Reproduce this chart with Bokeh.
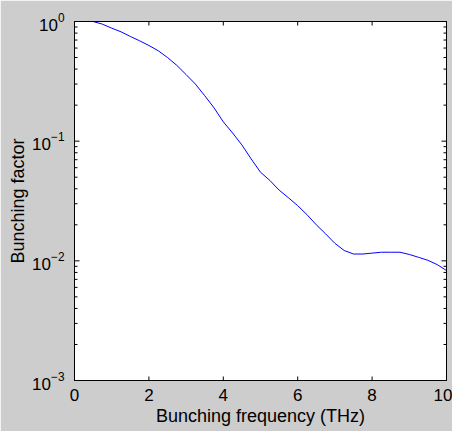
import math
from bokeh.plotting import figure
from bokeh.models import LinearAxis, LogAxis, FixedTicker, LogTicker
from bokeh.embed import file_html
from bokeh.resources import INLINE

# Data
freq_thz = [0.5, 0.75, 1.0, 1.25, 1.5, 1.75, 2.0, 2.25, 2.5, 2.75, 3.0, 3.25,
            3.5, 3.75, 4.0, 4.25, 4.5, 4.75, 5.0, 5.25, 5.5, 5.75, 6.0, 6.25,
            6.5, 6.75, 7.0, 7.25, 7.5, 7.75, 8.0, 8.25, 8.5, 8.75, 9.0, 9.25,
            9.5, 9.75, 10.0]
bunching = [1.0, 0.95, 0.88, 0.82, 0.75, 0.69, 0.63, 0.57, 0.50, 0.43, 0.36,
            0.30, 0.24, 0.19, 0.145, 0.117, 0.093, 0.071, 0.055, 0.047, 0.039,
            0.0337, 0.0289, 0.0243, 0.0200, 0.0168, 0.0140, 0.0122, 0.0114,
            0.0114, 0.0116, 0.0118, 0.0118, 0.0118, 0.0113, 0.0107, 0.0101,
            0.0093, 0.0083]
x_ticks = [0, 2, 4, 6, 8, 10]
y_major_ticks = [1e-3, 1e-2, 1e-1, 1e0]
y_minor_ticks = [m * d for d in [1e-3, 1e-2, 1e-1] for m in range(2, 10)]

X_MIN, X_MAX = 0, 10
Y_MIN, Y_MAX = 1e-3, 1

W, H = 452, 431
B_LEFT, B_RIGHT, B_TOP, B_BOTTOM = 74, 6, 21, 51
FRAME_W = W - B_LEFT - B_RIGHT
FRAME_H = H - B_TOP - B_BOTTOM

FONT = "Liberation Sans"
BG = "#cdcdcd"

p = figure(width=W, height=H, x_range=(X_MIN, X_MAX), y_range=(Y_MIN, Y_MAX),
           y_axis_type="log", output_backend="svg", toolbar_location=None,
           min_border_left=B_LEFT, min_border_right=B_RIGHT,
           min_border_top=B_TOP, min_border_bottom=B_BOTTOM,
           background_fill_color="white",
           border_fill_color=BG, outline_line_color="black",
           outline_line_width=1)
p.grid.visible = False

p.line(freq_thz, bunching, line_color="#0000ff", line_width=1)

# inward tick marks on all four sides, lengths given in pixels
def px_to_x(px):
    return px * (X_MAX - X_MIN) / FRAME_W

def px_to_ylog(px):
    return px * (math.log10(Y_MAX) - math.log10(Y_MIN)) / FRAME_H

xt_len = 10 ** px_to_ylog(4)
p.segment(x0=x_ticks, y0=[Y_MIN] * len(x_ticks), x1=x_ticks,
          y1=[Y_MIN * xt_len] * len(x_ticks), line_color="black", line_width=1)
p.segment(x0=x_ticks, y0=[Y_MAX] * len(x_ticks), x1=x_ticks,
          y1=[Y_MAX / xt_len] * len(x_ticks), line_color="black", line_width=1)
for xe, sgn in ((X_MIN, 1), (X_MAX, -1)):
    p.segment(x0=[xe] * len(y_major_ticks), y0=y_major_ticks,
              x1=[xe + sgn * px_to_x(5)] * len(y_major_ticks), y1=y_major_ticks,
              line_color="black", line_width=1)
    p.segment(x0=[xe] * len(y_minor_ticks), y0=y_minor_ticks,
              x1=[xe + sgn * px_to_x(3)] * len(y_minor_ticks), y1=y_minor_ticks,
              line_color="black", line_width=1)

bottom = p.xaxis[0]
left = p.yaxis[0]
bottom.ticker = FixedTicker(ticks=x_ticks)
left.ticker = LogTicker(num_minor_ticks=10)
bottom.axis_label = "Bunching frequency (THz)"
left.axis_label = "Bunching factor"

top = LinearAxis(ticker=FixedTicker(ticks=x_ticks))
right = LogAxis(ticker=LogTicker(num_minor_ticks=10))
p.add_layout(top, "above")
p.add_layout(right, "right")

for ax in [bottom, left, top, right]:
    ax.axis_line_color = "black"
    ax.major_tick_in = 0
    ax.major_tick_out = 0
    ax.minor_tick_in = 0
    ax.minor_tick_out = 0
    ax.major_tick_line_color = None
    ax.minor_tick_line_color = None
    ax.major_label_text_font = FONT
    ax.major_label_text_font_size = "17px"
    ax.major_label_text_color = "black"
    ax.axis_label_text_font = FONT
    ax.axis_label_text_font_size = "18px"
    ax.axis_label_text_font_style = "normal"
    ax.axis_label_text_color = "black"

for ax in [top, right]:
    ax.major_label_text_font_size = "1px"
    ax.major_label_text_color = None
    ax.major_label_standoff = 0

bottom.major_label_standoff = 8
bottom.axis_label_standoff = 2
left.major_label_standoff = 10
left.axis_label_standoff = 1

open("out.html", "w").write(file_html(p, INLINE))
